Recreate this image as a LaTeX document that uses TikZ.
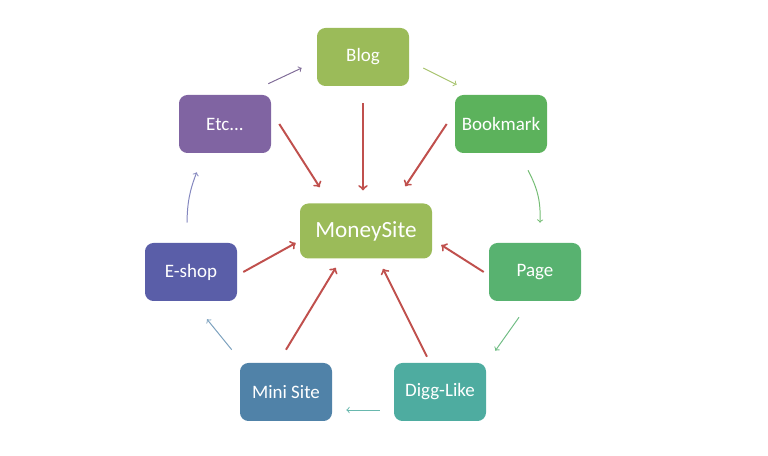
\documentclass[tikz,border=0pt]{standalone}
\usepackage{fontspec}
\setmainfont{Carlito}
\usetikzlibrary{arrows,positioning,calc}
\definecolor{sitegreen}{RGB}{155,187,89}
\definecolor{markgreen}{RGB}{92,178,92}
\definecolor{pagegreen}{RGB}{88,178,112}
\definecolor{diggteal}{RGB}{78,172,160}
\definecolor{miniblue}{RGB}{80,130,168}
\definecolor{shopblue}{RGB}{90,94,168}
\definecolor{etcpurple}{RGB}{128,100,162}
\definecolor{linkred}{RGB}{192,80,77}
\tikzset{
  box/.style={rounded corners=6pt,minimum width=2.3cm,minimum height=1.45cm,
    text=white,font=\fontsize{13.5}{15}\selectfont,inner sep=0pt},
  link/.style={->,linkred,line width=1.4pt},
  cycle/.style={->,line width=0.7pt}
}
\begin{document}
\begin{tikzpicture}
\useasboundingbox (0,0) rectangle (19.2,11.375);
\node[box,fill=sitegreen] (blog) at (9.075,9.95) {Blog};
\node[box,fill=markgreen] (bookmark) at (12.525,8.275) {Bookmark};
\node[box,fill=etcpurple] (etc) at (5.625,8.275) {Etc...};
\node[box,fill=sitegreen,minimum width=3.3cm,minimum height=1.375cm,font=\fontsize{16.5}{18}\selectfont] (money) at (9.15,5.6) {MoneySite};
\node[box,fill=shopblue] (eshop) at (4.775,4.575) {E-shop};
\node[box,fill=pagegreen] (page) at (13.375,4.575) {Page};
\node[box,fill=miniblue] (mini) at (7.15,1.575) {Mini Site};
\node[box,fill=diggteal] (digg) at (11.0,1.575) {Digg-Like};
% links to the money site
\draw[link] ($(blog.south)+(0,-0.425)$) -- ($(blog.south |- money.north)+(0,0.32)$);
\draw[link] ($(bookmark.west)+(-0.2,0)$) -- ($(money.north east)+(-0.675,0.425)$);
\draw[link] ($(etc.east)+(0.2,0)$) -- ($(money.north west)+(0.5,0.4)$);
\draw[link] ($(eshop.east)+(0.15,0)$) -- ($(money.west)+(-0.1,-0.3)$);
\draw[link] ($(page.west)+(-0.125,0)$) -- ($(money.east)+(0.225,-0.35)$);
\draw[link] ($(mini.north)+(0,0.325)$) -- ($(money.south west)+(0.9,-0.225)$);
\draw[link] ($(digg.north)+(-0.325,0.15)$) -- ($(money.south)+(0.425,-0.25)$);
% the ring
\draw[cycle,etcpurple!70!gray] ($(etc.north east)+(-0.075,0.275)$) -- ($(blog.west)+(-0.375,-0.275)$);
\draw[cycle,sitegreen!85] ($(blog.east)+(0.35,-0.275)$) -- ($(bookmark.north west)+(0.05,0.25)$);
\draw[cycle,markgreen!85] ($(bookmark.south)+(0.675,-0.425)$) to[bend left=15] ($(page.north)+(0.125,0.5)$);
\draw[cycle,pagegreen!85] ($(page.south)+(-0.4,-0.4)$) -- ($(digg.north east)+(0.225,0.3)$);
\draw[cycle,diggteal!85] ($(digg.west)+(-0.35,-0.45)$) -- ($(mini.east)+(0.35,-0.45)$);
\draw[cycle,miniblue!75] ($(mini.north west)+(-0.2,0.325)$) -- ($(eshop.south)+(0.4,-0.45)$);
\draw[cycle,shopblue!75] ($(eshop.north)+(-0.1,0.5)$) to[bend left=10] ($(etc.south west)+(0.45,-0.475)$);
\end{tikzpicture}
\end{document}
